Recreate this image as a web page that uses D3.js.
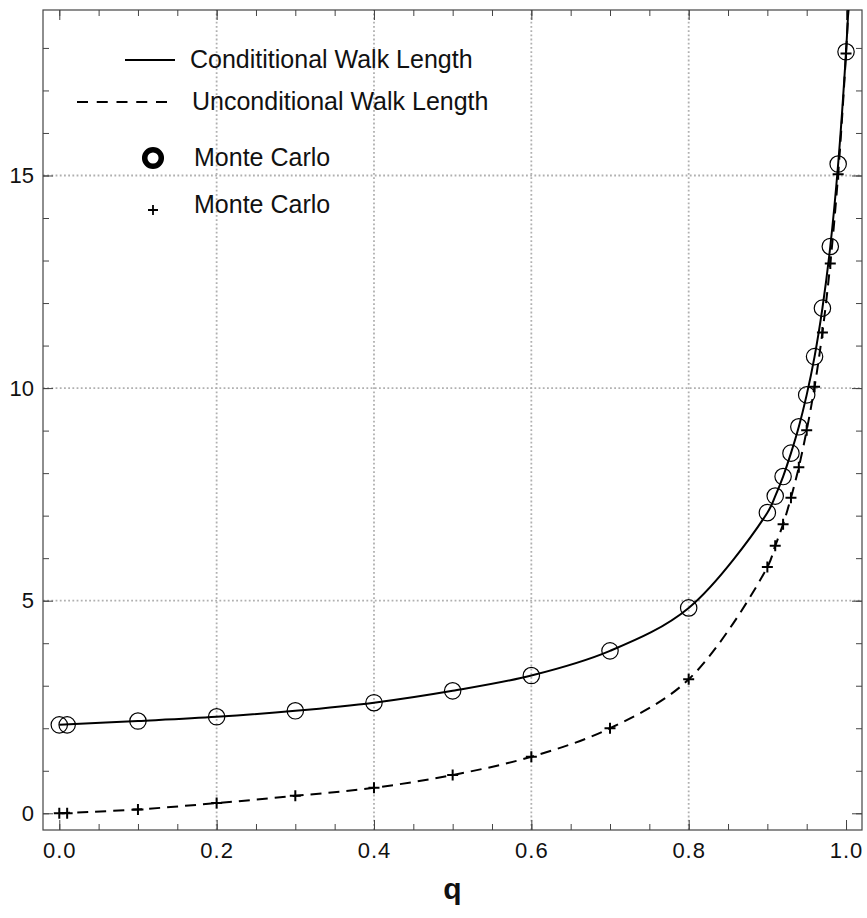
<!DOCTYPE html>
<html>
<head>
<meta charset="utf-8">
<script src="https://cdn.jsdelivr.net/npm/d3@7"></script>
<style>
  body { margin: 0; background: #fff; }
  text { font-family: "Liberation Sans", Arial, sans-serif; }
</style>
</head>
<body>
<div id="chart"></div>
<script>
// q values where Monte Carlo runs were done
const qValues = [0, 0.01, 0.1, 0.2, 0.3, 0.4, 0.5, 0.6, 0.7, 0.8,
  0.9, 0.91, 0.92, 0.93, 0.94, 0.95, 0.96, 0.97, 0.98, 0.99, 1.0];
// conditional walk length, Monte Carlo (circles)
const condMC = [2.08, 2.08, 2.17, 2.27, 2.41, 2.60, 2.88, 3.24, 3.82, 4.83,
  7.07, 7.46, 7.92, 8.47, 9.09, 9.84, 10.74, 11.88, 13.33, 15.27, 17.91];
// unconditional walk length, Monte Carlo (plus signs)
const uncondMC = [0, 0.0, 0.09, 0.24, 0.41, 0.60, 0.90, 1.33, 2.00, 3.15,
  5.79, 6.29, 6.80, 7.42, 8.14, 9.01, 10.03, 11.31, 12.93, 15.03, 17.87];

// theory curves (last point runs past the top edge)
const lineQ = [0, 0.1, 0.2, 0.3, 0.4, 0.5, 0.6, 0.7, 0.8,
  0.9, 0.91, 0.92, 0.93, 0.94, 0.95, 0.96, 0.97, 0.98, 0.99, 1.0, 1.004];
const condLine = [2.08, 2.17, 2.27, 2.41, 2.60, 2.88, 3.24, 3.82, 4.83,
  7.07, 7.46, 7.92, 8.47, 9.09, 9.84, 10.74, 11.88, 13.33, 15.27, 17.91, 19.3];
const uncondLine = [0, 0.09, 0.24, 0.41, 0.60, 0.90, 1.33, 2.00, 3.15,
  5.79, 6.29, 6.80, 7.42, 8.14, 9.01, 10.03, 11.31, 12.93, 15.03, 17.87, 19.3];

const xTicks = [0, 0.2, 0.4, 0.6, 0.8, 1.0];
const yTicks = [0, 5, 10, 15];
const xGrid = [0.2, 0.4, 0.6, 0.8];
const yGrid = [5, 10, 15];

const legendItems = ['Condititional Walk Length', 'Unconditional Walk Length', 'Monte Carlo', 'Monte Carlo'];

const width = 867;
const height = 918;
const margin = {top: 10, right: 5, bottom: 88, left: 43};

const x = d3.scaleLinear()
  .domain([-0.0207, 1.0203])
  .range([margin.left, width - margin.right]);

const y = d3.scaleLinear()
  .domain([-0.393, 18.892])
  .range([height - margin.bottom, margin.top]);

const svg = d3.select('#chart')
  .append('svg')
  .attr('width', width)
  .attr('height', height);

svg.append('rect')
  .attr('width', width)
  .attr('height', height)
  .attr('fill', '#fff');

const plotBottom = y.range()[0];
const plotTop = y.range()[1];
const plotLeft = x.range()[0];
const plotRight = x.range()[1];

svg.append('clipPath')
  .attr('id', 'plotClip')
  .append('rect')
  .attr('x', plotLeft)
  .attr('y', plotTop)
  .attr('width', plotRight - plotLeft)
  .attr('height', plotBottom - plotTop);

// grid lines
const grid = svg.append('g')
  .attr('stroke', '#b0b0b0')
  .attr('stroke-width', 1.8)
  .attr('stroke-dasharray', '1.8,2.4');

grid.selectAll('line.gx')
  .data(xGrid)
  .enter()
  .append('line')
  .attr('class', 'gx')
  .attr('x1', d => x(d)).attr('x2', d => x(d))
  .attr('y1', plotBottom).attr('y2', plotTop);

grid.selectAll('line.gy')
  .data(yGrid)
  .enter()
  .append('line')
  .attr('class', 'gy')
  .attr('y1', d => y(d)).attr('y2', d => y(d))
  .attr('x1', plotLeft).attr('x2', plotRight);

// axes, ticks inside on all four sides
const tickColor = '#444';
const xMinor = d3.range(0, 1.0001, 0.05).map(d => +d.toFixed(2));
const yMinor = d3.range(0, 19, 1);

function addAxis(axis, transform, labels) {
  const g = svg.append('g')
    .attr('transform', transform)
    .call(axis);
  g.select('.domain').remove();
  g.selectAll('line').attr('stroke', tickColor);
  if (!labels) g.selectAll('text').remove();
  return g;
}

addAxis(d3.axisBottom(x).tickValues(xMinor).tickSize(-6).tickFormat(''), `translate(0,${plotBottom})`, false);
addAxis(d3.axisTop(x).tickValues(xMinor).tickSize(-6).tickFormat(''), `translate(0,${plotTop})`, false);
addAxis(d3.axisLeft(y).tickValues(yMinor).tickSize(-6).tickFormat(''), `translate(${plotLeft},0)`, false);
addAxis(d3.axisRight(y).tickValues(yMinor).tickSize(-6).tickFormat(''), `translate(${plotRight},0)`, false);

const xAxis = addAxis(d3.axisBottom(x).tickValues(xTicks).tickSize(-10).tickPadding(12).tickFormat(d3.format('.1f')),
  `translate(0,${plotBottom})`, true);
addAxis(d3.axisTop(x).tickValues(xTicks).tickSize(-10).tickFormat(''), `translate(0,${plotTop})`, false);
const yAxis = addAxis(d3.axisLeft(y).tickValues(yTicks).tickSize(-10).tickPadding(9).tickFormat(d3.format('d')),
  `translate(${plotLeft},0)`, true);
addAxis(d3.axisRight(y).tickValues(yTicks).tickSize(-10).tickFormat(''), `translate(${plotRight},0)`, false);

xAxis.selectAll('text')
  .attr('font-size', '22px')
  .attr('letter-spacing', '1px')
  .attr('fill', '#111')
  .attr('font-family', '"Liberation Sans", Arial, sans-serif');
yAxis.selectAll('text')
  .attr('font-size', '22px')
  .attr('fill', '#111')
  .attr('font-family', '"Liberation Sans", Arial, sans-serif');

// frame
svg.append('rect')
  .attr('x', plotLeft)
  .attr('y', plotTop)
  .attr('width', plotRight - plotLeft)
  .attr('height', plotBottom - plotTop)
  .attr('fill', 'none')
  .attr('stroke', tickColor)
  .attr('stroke-width', 1.2);

// theory curves
const plot = svg.append('g').attr('clip-path', 'url(#plotClip)');

const line = d3.line()
  .x(d => x(d[0]))
  .y(d => y(d[1]))
  .curve(d3.curveCatmullRom.alpha(0.5));

plot.append('path')
  .datum(d3.zip(lineQ, uncondLine))
  .attr('d', line)
  .attr('fill', 'none')
  .attr('stroke', '#000')
  .attr('stroke-width', 2)
  .attr('stroke-dasharray', '11,7');

plot.append('path')
  .datum(d3.zip(lineQ, condLine))
  .attr('d', line)
  .attr('fill', 'none')
  .attr('stroke', '#000')
  .attr('stroke-width', 2);

// Monte Carlo markers
plot.selectAll('circle.mc')
  .data(d3.zip(qValues, condMC))
  .enter()
  .append('circle')
  .attr('class', 'mc')
  .attr('cx', d => x(d[0]))
  .attr('cy', d => y(d[1]))
  .attr('r', 8.2)
  .attr('fill', 'none')
  .attr('stroke', '#000')
  .attr('stroke-width', 1.2);

const plusSize = 5.5;
plot.selectAll('path.plus')
  .data(d3.zip(qValues, uncondMC))
  .enter()
  .append('path')
  .attr('class', 'plus')
  .attr('d', d => {
    const cx = x(d[0]), cy = y(d[1]);
    return `M${cx - plusSize},${cy}H${cx + plusSize}M${cx},${cy - plusSize}V${cy + plusSize}`;
  })
  .attr('stroke', '#000')
  .attr('stroke-width', 2);

// legend
const legend = svg.append('g');
const legendText = [
  {x: 190, y: 68},
  {x: 192, y: 110},
  {x: 194, y: 166},
  {x: 194, y: 213}
];

legend.append('line')
  .attr('x1', 125).attr('x2', 175).attr('y1', 60).attr('y2', 60)
  .attr('stroke', '#000').attr('stroke-width', 2);

legend.append('line')
  .attr('x1', 77).attr('x2', 167).attr('y1', 102).attr('y2', 102)
  .attr('stroke', '#000').attr('stroke-width', 2)
  .attr('stroke-dasharray', '11,8.75');

legend.append('circle')
  .attr('cx', 153).attr('cy', 158).attr('r', 8.3)
  .attr('fill', 'none')
  .attr('stroke', '#000').attr('stroke-width', 5.5);

legend.append('path')
  .attr('d', 'M148,210H158M153,205V215')
  .attr('stroke', '#000').attr('stroke-width', 1.8);

legend.selectAll('text')
  .data(legendItems)
  .enter()
  .append('text')
  .attr('x', (d, i) => legendText[i].x)
  .attr('y', (d, i) => legendText[i].y)
  .attr('font-size', '25px')
  .attr('fill', '#111')
  .text(d => d);

// axis title
svg.append('text')
  .attr('x', (plotLeft + plotRight) / 2)
  .attr('y', 899)
  .attr('text-anchor', 'middle')
  .attr('font-size', '30px')
  .attr('font-weight', 'bold')
  .attr('fill', '#111')
  .text('q');
</script>
</body>
</html>
